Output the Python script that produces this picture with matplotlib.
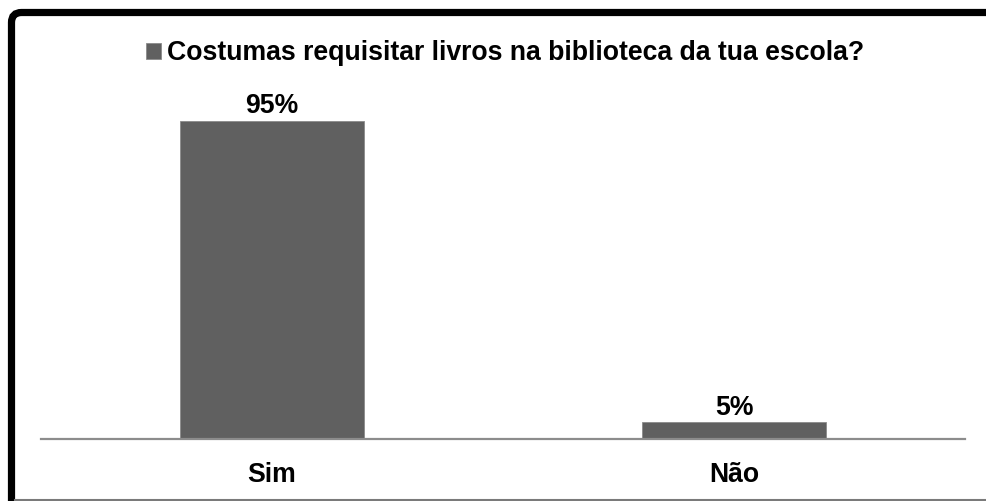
# Librării
import matplotlib.pyplot as plt
from matplotlib.patches import PathPatch
from matplotlib.path import Path
from matplotlib.lines import Line2D


# Date
categorii = ['Sim', 'Não']
valori = [95, 5]
serie = 'Costumas requisitar livros na biblioteca da tua escola?'

plt.rcParams['font.family'] = ['Liberation Sans', 'DejaVu Sans']
plt.rcParams['font.weight'] = 'bold'
fs = 19.2
culoare = '#606060'

W, H = 987, 501
fig = plt.figure(figsize=(W / 100, H / 100), dpi=100)

# Chenar exterior (negru, colț rotunjit) - doar stânga și sus, în inch
xs, ys, r = 0.115, (H - 12.5) / 100, 0.1
cale = Path([(xs, 0.0), (xs, ys - r), (xs, ys), (xs + r, ys), (W / 100, ys)],
            [Path.MOVETO, Path.LINETO, Path.CURVE3, Path.CURVE3, Path.LINETO])
fig.patches.append(PathPatch(cale, transform=fig.dpi_scale_trans, fill=False,
                             edgecolor='black', linewidth=5.2, zorder=0,
                             capstyle='butt', joinstyle='miter'))
fig.lines.append(Line2D([15 / W, 1], [1.5 / H, 1.5 / H], transform=fig.transFigure,
                        color='#7a7a7a', linewidth=1.5))

# Grafic
ax = fig.add_axes([41 / W, 62 / H, 924 / W, 335 / H])
x = range(len(categorii))
ax.bar(x, valori, width=0.4, color=culoare, edgecolor='#8a8a8a',
       linewidth=0.6, label=serie)
ax.set_xlim(-0.5, len(categorii) - 0.5)
ax.set_ylim(0, 100)

for xi, v in zip(x, valori):
    ax.annotate(f'{v}%', (xi, v), xytext=(0, 10.5), textcoords='offset points',
                ha='center', va='center', fontsize=fs, fontweight='bold')

ax.set_xticks(list(x))
ax.set_xticklabels(categorii, fontsize=fs, fontweight='bold')
ax.tick_params(axis='x', length=0, pad=16.5)
ax.set_yticks([])
for s in ['top', 'right', 'left']:
    ax.spines[s].set_visible(False)
ax.spines['bottom'].set_color('#8c8c8c')
ax.spines['bottom'].set_linewidth(1.6)

fig.legend(loc='center', bbox_to_anchor=(505 / W, 1 - 53.5 / H), frameon=False,
           handlelength=0.55, handleheight=0.55, handletextpad=0.22,
           borderpad=0, prop={'weight': 'bold', 'size': fs})

plt.savefig('out.png', dpi=100)
